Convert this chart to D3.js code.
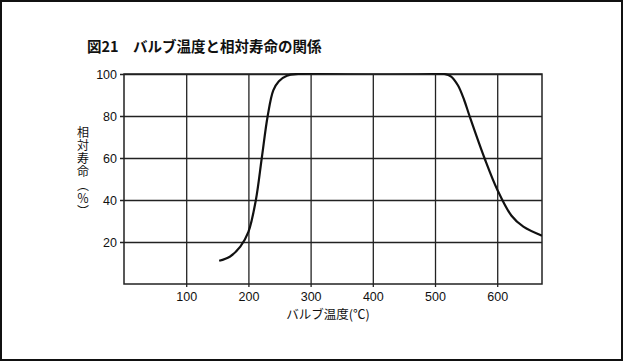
<!DOCTYPE html>
<html>
<head>
<meta charset="utf-8">
<script src="https://cdn.jsdelivr.net/npm/d3@7"></script>
<style>
  body { margin: 0; background: #fff; }
  svg { display: block; }
</style>
</head>
<body>
<div id="chart"></div>
<script>
// values
var temps  = [153, 170, 187, 200, 212, 221.5, 231, 240, 249, 262, 280, 515, 526, 537, 547, 555.5, 579.5, 600, 623, 642, 672];
var life   = [11.1, 13, 17.8, 24.8, 40, 60, 80, 92.2, 96.6, 99.2, 100, 100, 98.8, 94.5, 87.5, 80, 60, 45, 32.5, 27.3, 23];
var xTicks = [100, 200, 300, 400, 500, 600];
var yTicks = [20, 40, 60, 80, 100];

var W = 623, H = 361;
var margin = { left: 124, right: 81, top: 74, bottom: 77 };
var width = W - margin.left - margin.right;
var height = H - margin.top - margin.bottom;

var svg = d3.select('#chart')
    .append('svg')
    .attr('width', W)
    .attr('height', H);

// outer frame
svg.append('rect')
    .attr('x', 1).attr('y', 1)
    .attr('width', W - 2).attr('height', H - 2)
    .attr('fill', '#fff')
    .attr('stroke', '#111')
    .attr('stroke-width', 2);

svg.append('text')
    .attr('x', 87)
    .attr('y', 52)
    .attr('font-family', '"Noto Sans CJK JP", sans-serif')
    .attr('font-size', 14.5)
    .attr('font-weight', 'bold')
    .attr('fill', '#111')
    .text('図21　バルブ温度と相対寿命の関係');

var g = svg.append('g')
    .attr('transform', 'translate(' + margin.left + ',' + margin.top + ')');

var x = d3.scaleLinear().domain([0, 672]).range([0, width]);
var y = d3.scaleLinear().domain([0, 100]).range([height, 0]);

var numFont = '"Liberation Sans Narrow", "Liberation Sans", sans-serif';

// y grid + labels
var gy = g.append('g')
    .attr('transform', 'translate(-4,0)')
    .call(d3.axisLeft(y).tickValues(yTicks).tickSize(-(width + 4)).tickPadding(3));
gy.select('.domain').remove();
gy.selectAll('line').attr('stroke', '#222').attr('stroke-width', 1.3);
gy.selectAll('text').attr('font-family', numFont).attr('font-size', 12.5).attr('fill', '#111');

// x grid + labels
var gx = g.append('g')
    .attr('transform', 'translate(0,' + (height + 3) + ')')
    .call(d3.axisBottom(x).tickValues(xTicks).tickSize(height + 3));
gx.select('.domain').remove();
gx.selectAll('line').attr('y2', -(height + 3)).attr('stroke', '#222').attr('stroke-width', 1.3);
gx.selectAll('text').attr('y', 5).attr('dy', '0.71em')
    .attr('font-family', numFont).attr('font-size', 12.5).attr('fill', '#111');

// plot frame
g.append('rect')
    .attr('width', width).attr('height', height)
    .attr('fill', 'none')
    .attr('stroke', '#222')
    .attr('stroke-width', 1.5);

g.append('clipPath').attr('id', 'plot-clip')
    .append('rect')
    .attr('x', 0).attr('y', -1)
    .attr('width', width).attr('height', height + 1);

// curve
var pts = temps.map(function (t, i) { return { t: t, v: life[i] }; });
var line = d3.line()
    .x(d => x(d.t))
    .y(d => y(d.v))
    .curve(d3.curveCatmullRom.alpha(0.5));
g.append('path')
    .datum(pts)
    .attr('d', line)
    .attr('clip-path', 'url(#plot-clip)')
    .attr('fill', 'none')
    .attr('stroke', '#111')
    .attr('stroke-width', 2.2);

// axis titles
svg.append('text')
    .attr('x', 328)
    .attr('y', 319)
    .attr('text-anchor', 'middle')
    .attr('font-family', '"Noto Sans CJK JP", sans-serif')
    .attr('font-size', 12.5)
    .attr('fill', '#111')
    .text('バルブ温度(℃)');

svg.append('text')
    .attr('x', 83)
    .attr('y', 126)
    .style('writing-mode', 'vertical-rl')
    .attr('font-family', '"Noto Sans CJK JP", sans-serif')
    .attr('font-size', 12)
    .attr('letter-spacing', 1.3)
    .attr('fill', '#111')
    .text('相対寿命（％）');
</script>
</body>
</html>
